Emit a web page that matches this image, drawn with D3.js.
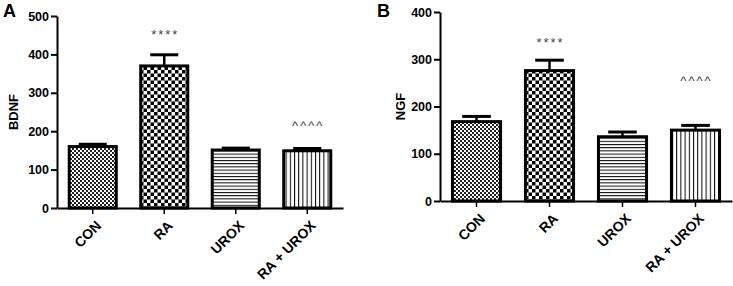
<!DOCTYPE html>
<html>
<head>
<meta charset="utf-8">
<script src="https://cdn.jsdelivr.net/npm/d3@7"></script>
<style>
  body { margin: 0; background: #fff; }
  svg { display: block; font-family: "Liberation Sans", Arial, sans-serif; }
</style>
</head>
<body>
<div id="chart"></div>
<script>
// Data
const groups = ["CON", "RA", "UROX", "RA + UROX"];
const patterns = ["fineCheck", "bigCheck", "hLines", "vLines"];

const bdnfMean = [160, 370, 151, 149];
const bdnfErr = [166, 399, 156, 155];
const bdnfTicks = [0, 100, 200, 300, 400, 500];

const ngfMean = [168, 276, 136, 150];
const ngfErr = [179, 298, 146, 160];
const ngfTicks = [0, 100, 200, 300, 400];

// significance marks: [group, label, value position]
const bdnfMarks = [["RA", "****", 440], ["RA + UROX", "^^^^", 203]];
const ngfMarks = [["RA", "****", 326], ["RA + UROX", "^^^^", 246]];

let width = 733;
let height = 286;

let svg = d3.select("#chart")
  .append("svg")
  .attr("width", width)
  .attr("height", height);

// fill patterns
let defs = svg.append("defs");

let p1 = defs.append("pattern").attr("id", "fineCheck")
  .attr("patternUnits", "userSpaceOnUse").attr("width", 4).attr("height", 4);
p1.append("rect").attr("width", 4).attr("height", 4).attr("fill", "#fff");
p1.append("rect").attr("width", 2).attr("height", 2).attr("fill", "#222");
p1.append("rect").attr("x", 2).attr("y", 2).attr("width", 2).attr("height", 2).attr("fill", "#222");

let p2 = defs.append("pattern").attr("id", "bigCheck")
  .attr("patternUnits", "userSpaceOnUse").attr("width", 7).attr("height", 7);
p2.append("rect").attr("width", 7).attr("height", 7).attr("fill", "#fff");
p2.append("rect").attr("width", 3.5).attr("height", 3.5).attr("fill", "#000");
p2.append("rect").attr("x", 3.5).attr("y", 3.5).attr("width", 3.5).attr("height", 3.5).attr("fill", "#000");

let p3 = defs.append("pattern").attr("id", "hLines")
  .attr("patternUnits", "userSpaceOnUse").attr("width", 6).attr("height", 3.2);
p3.append("rect").attr("width", 6).attr("height", 3.2).attr("fill", "#fff");
p3.append("rect").attr("y", 0).attr("width", 6).attr("height", 1).attr("fill", "#000");

let p4 = defs.append("pattern").attr("id", "vLines")
  .attr("patternUnits", "userSpaceOnUse").attr("width", 4.2).attr("height", 6);
p4.append("rect").attr("width", 4.2).attr("height", 6).attr("fill", "#fff");
p4.append("rect").attr("x", 0).attr("width", 1).attr("height", 6).attr("fill", "#000");

function drawPanel(cfg) {
  let g = svg.append("g");

  let x = d3.scaleBand()
    .domain(groups)
    .range([cfg.left, cfg.right])
    .paddingInner(0.3)
    .paddingOuter(0.15);

  let y = d3.scaleLinear()
    .domain([0, cfg.ticks[cfg.ticks.length - 1]])
    .range([cfg.bottom, cfg.top]);

  // bars
  g.selectAll(".bar")
    .data(groups)
    .enter()
    .append("rect")
    .attr("x", d => x(d) + 1.5)
    .attr("y", (d, i) => y(cfg.mean[i]))
    .attr("width", x.bandwidth() - 3)
    .attr("height", (d, i) => y(0) - y(cfg.mean[i]))
    .attr("fill", (d, i) => "url(#" + patterns[i] + ")")
    .attr("stroke", "#000")
    .attr("stroke-width", 3);

  // error bars (upper only)
  let eb = g.selectAll(".err")
    .data(groups)
    .enter()
    .append("g");
  eb.append("line")
    .attr("x1", d => x(d) + x.bandwidth() / 2)
    .attr("x2", d => x(d) + x.bandwidth() / 2)
    .attr("y1", (d, i) => y(cfg.mean[i]))
    .attr("y2", (d, i) => y(cfg.err[i]))
    .attr("stroke", "#000")
    .attr("stroke-width", 2.5);
  eb.append("line")
    .attr("x1", d => x(d) + x.bandwidth() * 0.22)
    .attr("x2", d => x(d) + x.bandwidth() * 0.78)
    .attr("y1", (d, i) => y(cfg.err[i]))
    .attr("y2", (d, i) => y(cfg.err[i]))
    .attr("stroke", "#000")
    .attr("stroke-width", 3);

  // y axis
  let yAxisG = g.append("g")
    .attr("transform", "translate(" + cfg.left + ",0)")
    .call(d3.axisLeft(y).tickValues(cfg.ticks).tickSize(6).tickPadding(2).tickSizeOuter(0));
  yAxisG.select(".domain").attr("stroke-width", 2);
  yAxisG.selectAll(".tick line").attr("stroke-width", 2);
  yAxisG.selectAll("text")
    .attr("font-size", 12.5)
    .attr("font-weight", "bold")
    .attr("fill", "#000");

  // x axis
  let xAxisG = g.append("g")
    .attr("transform", "translate(0," + cfg.bottom + ")")
    .call(d3.axisBottom(x).tickSize(6).tickSizeOuter(0));
  xAxisG.select(".domain").attr("stroke-width", 2);
  xAxisG.selectAll(".tick line").attr("stroke-width", 1.5);
  xAxisG.selectAll("text")
    .attr("font-size", 14)
    .attr("font-weight", "bold")
    .attr("fill", "#000")
    .attr("text-anchor", "end")
    .attr("transform", "translate(6,15) rotate(-45)")
    .attr("x", 0)
    .attr("y", 0)
    .attr("dy", "0.35em");

  // y axis title
  g.append("text")
    .attr("transform", "translate(" + cfg.titleX + "," + ((cfg.top + cfg.bottom) / 2) + ") rotate(-90)")
    .attr("text-anchor", "middle")
    .attr("font-size", 13)
    .attr("font-weight", "bold")
    .text(cfg.title);

  // panel letter
  g.append("text")
    .attr("x", cfg.letterX)
    .attr("y", 17)
    .attr("font-size", 18)
    .attr("font-weight", "bold")
    .text(cfg.letter);

  // significance marks
  g.selectAll(".mark")
    .data(cfg.marks)
    .enter()
    .append("text")
    .attr("x", d => x(d[0]) + x.bandwidth() / 2 + 1)
    .attr("y", d => y(d[2]))
    .attr("text-anchor", "middle")
    .attr("font-size", 13)
    .attr("letter-spacing", 2)
    .attr("fill", "#444")
    .text(d => d[1]);
}

drawPanel({
  left: 57, right: 343, top: 16, bottom: 208,
  ticks: bdnfTicks, mean: bdnfMean, err: bdnfErr, marks: bdnfMarks,
  title: "BDNF", titleX: 18, letter: "A", letterX: 3
});

drawPanel({
  left: 440, right: 732, top: 12, bottom: 201,
  ticks: ngfTicks, mean: ngfMean, err: ngfErr, marks: ngfMarks,
  title: "NGF", titleX: 405, letter: "B", letterX: 377
});
</script>
</body>
</html>
